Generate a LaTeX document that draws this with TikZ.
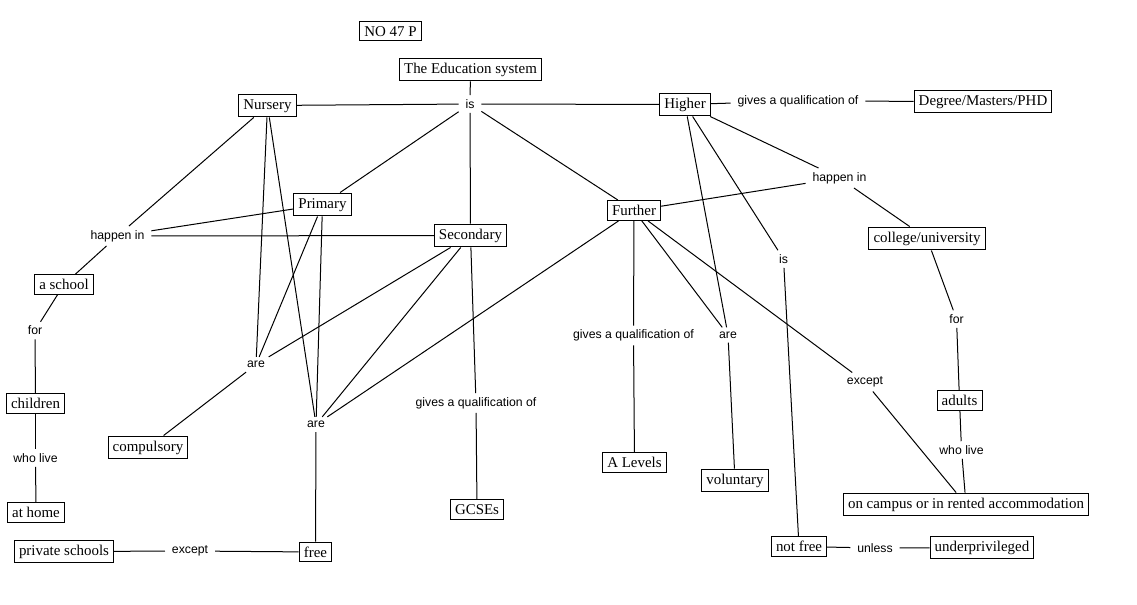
\documentclass[tikz,border=0pt]{standalone}
\usepackage{fontspec}
\setmainfont{Liberation Serif}
\newfontfamily\labfont{Liberation Sans}
\begin{document}
\begin{tikzpicture}[x=0.75pt,y=-0.75pt,
  box/.style={draw,line width=0.75pt,font=\fontsize{11.2}{13}\selectfont,inner xsep=3.5pt,inner ysep=3.3pt,text height=8.2pt},
  lab/.style={font=\labfont\fontsize{9.2}{11}\selectfont,inner xsep=5pt,inner ysep=3pt},
  conn/.style={line width=0.75pt}]
\useasboundingbox[fill=white] (0,0) rectangle (1137,604);
% concept boxes
\node[box] (no)   at (390.5,31)   {NO 47 P};
\node[box] (edu)  at (470.5,69.5) {The Education system};
\node[box] (nur)  at (267.5,105.5){Nursery};
\node[box] (hig)  at (685,104.5)  {Higher};
\node[box] (deg)  at (983,101.5)  {Degree/Masters/PHD};
\node[box] (pri)  at (322.5,204.5){Primary};
\node[box] (fur)  at (634,210.5)  {Further};
\node[box] (sec)  at (470.5,235.5){Secondary};
\node[box] (col)  at (927,238.5)  {college/university};
\node[box] (sch)  at (64,284.5)   {a school};
\node[box] (chi)  at (35.5,403.5) {children};
\node[box] (com)  at (148,447.5)  {compulsory};
\node[box] (ale)  at (634.5,462.5){A Levels};
\node[box] (vol)  at (735,480.5)  {voluntary};
\node[box] (adu)  at (959.5,400.5){adults};
\node[box] (gcs)  at (477,509.5)  {GCSEs};
\node[box] (cam)  at (966,504.5)  {on campus or in rented accommodation};
\node[box] (hom)  at (36,512.5)   {at home};
\node[box] (prs)  at (64,551.5)   {private schools};
\node[box] (fre)  at (315.5,552)  {free};
\node[box] (nfr)  at (799,546.5)  {not free};
\node[box] (und)  at (982,547.5)  {underprivileged};
% linking phrases
\node[lab] (is1)  at (470,104)    {is};
\node[lab] (gq1)  at (798,101)    {gives a qualification of};
\node[lab] (hl)   at (117.5,236)  {happen in};
\node[lab] (hr)   at (839.5,178)  {happen in};
\node[lab] (is2)  at (783.5,259)  {is};
\node[lab] (for1) at (35,330.5)   {for};
\node[lab] (wl1)  at (35.5,458)   {who live};
\node[lab] (are1) at (256,364.5)  {are};
\node[lab] (are2) at (316,424.5)  {are};
\node[lab] (gq2)  at (476,403)    {gives a qualification of};
\node[lab] (gq3)  at (633.5,335.5){gives a qualification of};
\node[lab] (are3) at (728,335)    {are};
\node[lab] (exc1) at (865,382)    {except};
\node[lab] (for2) at (956.5,319)  {for};
\node[lab] (wl2)  at (961.5,450)  {who live};
\node[lab] (exc2) at (190,551)    {except};
\node[lab] (unl)  at (875,548)    {unless};
% connectors
\draw[conn] (edu) -- (is1);
\draw[conn] (is1) -- (nur);
\draw[conn] (is1) -- (hig);
\draw[conn] (is1) -- (pri);
\draw[conn] (is1) -- (sec);
\draw[conn] (is1) -- (fur);
\draw[conn] (hig) -- (gq1);
\draw[conn] (gq1) -- (deg);
\draw[conn] (nur) -- (hl);
\draw[conn] (pri) -- (hl);
\draw[conn] (hl) -- (sec);
\draw[conn] (hl) -- (sch);
\draw[conn] (sch) -- (for1);
\draw[conn] (for1) -- (chi);
\draw[conn] (chi) -- (wl1);
\draw[conn] (wl1) -- (hom);
\draw[conn] (nur) -- (are1);
\draw[conn] (pri) -- (are1);
\draw[conn] (sec) -- (are1);
\draw[conn] (are1) -- (com);
\draw[conn] (nur) -- (are2);
\draw[conn] (pri) -- (are2);
\draw[conn] (sec) -- (are2);
\draw[conn] (fur) -- (are2);
\draw[conn] (are2) -- (fre);
\draw[conn] (fre) -- (exc2);
\draw[conn] (exc2) -- (prs);
\draw[conn] (sec) -- (gq2);
\draw[conn] (gq2) -- (gcs);
\draw[conn] (fur) -- (gq3);
\draw[conn] (gq3) -- (ale);
\draw[conn] (fur) -- (are3);
\draw[conn] (hig) -- (are3);
\draw[conn] (are3) -- (vol);
\draw[conn] (fur) -- (exc1);
\draw[conn] (exc1) -- (cam);
\draw[conn] (hig) -- (is2);
\draw[conn] (is2) -- (nfr);
\draw[conn] (nfr) -- (unl);
\draw[conn] (unl) -- (und);
\draw[conn] (hig) -- (hr);
\draw[conn] (fur) -- (hr);
\draw[conn] (hr) -- (col);
\draw[conn] (col) -- (for2);
\draw[conn] (for2) -- (adu);
\draw[conn] (adu) -- (wl2);
\draw[conn] (wl2) -- (cam);
\end{tikzpicture}
\end{document}
